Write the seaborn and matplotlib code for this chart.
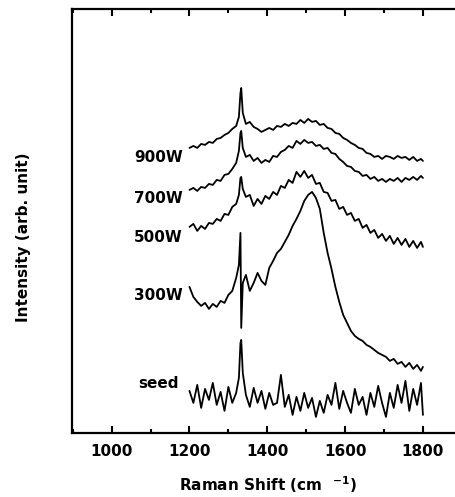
import matplotlib
matplotlib.use('Agg')
import matplotlib.pyplot as plt
import seaborn as sns
import pandas as pd
from matplotlib.ticker import MultipleLocator

# Raman spectra (intensity in arbitrary units)
raman_shift = [1200, 1210, 1220, 1230, 1240, 1250, 1260, 1270, 1280, 1290, 1300, 1310, 1320,
               1327, 1331, 1333, 1337,
               1345, 1355, 1365, 1375, 1385, 1395, 1405, 1415, 1425, 1435,
               1445, 1455, 1465, 1475, 1485, 1495, 1505, 1515, 1525, 1535,
               1545, 1555, 1565, 1575, 1585, 1595, 1605, 1615, 1625, 1635,
               1645, 1655, 1665, 1675, 1685, 1695, 1705, 1715, 1725, 1735,
               1745, 1755, 1765, 1775, 1785, 1795,
               1800]

seed = [42, 30, 48, 25, 44, 33, 50, 28, 41, 22, 46, 30, 40,
        55, 90, 93, 60,
        38, 26, 45, 30, 42, 24, 40, 28, 30, 58,
        26, 38, 18, 36, 22, 40, 25, 35, 16, 32,
        20, 38, 28, 50, 24, 42, 30, 20, 44, 28,
        36, 18, 40, 26, 47, 30, 16, 40, 25, 48,
        30, 52, 22, 44, 28, 50,
        18]

w300 = [146, 136, 131, 127, 130, 124, 129, 126, 132, 130, 138, 142, 155,
        168, 200, 105, 150,
        158, 142, 150, 160, 152, 148, 165, 172, 180, 184,
        191, 198, 207, 214, 222, 232, 238, 241, 235, 224,
        200, 180, 164, 146, 131, 118, 110, 102, 97, 94,
        92, 88, 86, 83, 80, 78, 76, 72, 74, 69,
        71, 66, 70, 64, 68, 62,
        66]

w500 = [206, 209, 202, 207, 204, 210, 209, 214, 212, 219, 218, 226, 229,
        238, 255, 256, 244,
        236, 238, 227, 234, 229, 237, 234, 241, 238, 247,
        245, 253, 250, 261, 256, 262, 255, 258, 249, 250,
        241, 240, 232, 233, 224, 226, 218, 220, 212, 214,
        205, 208, 200, 203, 195, 199, 192, 197, 189, 195,
        188, 194, 186, 192, 185, 191,
        186]

w700 = [243, 245, 242, 246, 245, 249, 248, 253, 252, 258, 259, 264, 270,
        282, 300, 302, 285,
        276, 278, 272, 275, 270, 273, 271, 277, 276, 281,
        283, 287, 285, 292, 289, 293, 290, 291, 287, 288,
        284, 285, 280, 279, 274, 271, 267, 266, 262, 261,
        257, 258, 254, 256, 252, 254, 251, 254, 252, 255,
        251, 255, 253, 256, 253, 257,
        255]

w900 = [285, 287, 285, 289, 288, 291, 290, 294, 295, 298, 300, 304, 307,
        316, 340, 345, 320,
        309, 311, 306, 304, 301, 303, 305, 303, 307, 306,
        309, 307, 310, 309, 313, 310, 314, 311, 312, 308,
        309, 305, 304, 300, 299, 295, 293, 290, 288, 285,
        284, 280, 279, 276, 277, 274, 277, 276, 274, 277,
        275, 276, 273, 276, 272, 274,
        272]

samples = ['seed', '300W', '500W', '700W', '900W']
spectra = [seed, w300, w500, w700, w900]

sns.set_style("ticks")
plt.rcParams['font.family'] = ['DejaVu Sans']
plt.rcParams['mathtext.fontset'] = 'dejavusans'
plt.rcParams['mathtext.default'] = 'bf'
plt.rcParams['text.color'] = 'black'
plt.rcParams['xtick.color'] = 'black'
plt.rcParams['xtick.labelcolor'] = 'black'

frames = []
for name, vals in zip(samples, spectra):
    frames.append(pd.DataFrame({'shift': raman_shift, 'intensity': vals, 'sample': name}))
df = pd.concat(frames, ignore_index=True)

fig = plt.figure(figsize=(4.56, 4.97), dpi=100)
ax = fig.add_axes([0.157, 0.129, 0.843, 0.853])

sns.lineplot(data=df, x='shift', y='intensity', units='sample', estimator=None,
             color='black', lw=1.3, legend=False, ax=ax)

# sample labels to the left of each trace
label_y = {'900W': 275, '700W': 234, '500W': 195, '300W': 137, 'seed': 49}
for name, yv in label_y.items():
    ax.text(1183 if name != 'seed' else 1172, yv, name, ha='right', va='center',
            fontsize=11, fontweight='bold', color='black')

ax.set_xlim(897, 1885)
ax.set_ylim(0, 424)
ax.xaxis.set_major_locator(MultipleLocator(200))
ax.xaxis.set_minor_locator(MultipleLocator(100))
ax.tick_params(axis='x', which='both', direction='in', top=True, bottom=True,
               labelsize=11, pad=8, width=1.5, color='black', labelcolor='black')
ax.tick_params(axis='x', which='major', length=5)
ax.tick_params(axis='x', which='minor', length=3)
for lab in ax.get_xticklabels():
    lab.set_fontweight('bold')
ax.set_yticks([])

for side in ['left', 'top', 'bottom']:
    ax.spines[side].set_linewidth(1.6)
    ax.spines[side].set_color('black')
ax.spines['right'].set_visible(False)

ax.set_xlabel('')
ax.set_ylabel('')
fig.text(268 / 456, 1 - 485 / 497, r'Raman Shift (cm  $^{-1}$)', ha='center', va='center',
         fontsize=11, fontweight='bold')
fig.text(24 / 456, 1 - 237 / 497, 'Intensity (arb. unit)', ha='center', va='center',
         rotation=90, fontsize=11, fontweight='bold')

plt.savefig('out.png', dpi=100)
plt.close()
